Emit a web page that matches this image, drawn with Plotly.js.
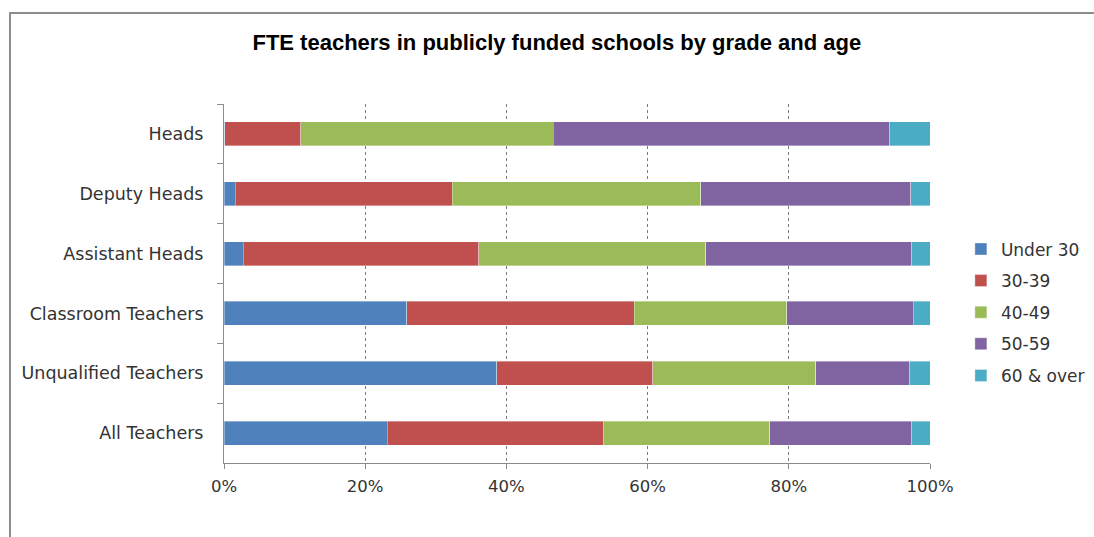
<!DOCTYPE html>
<html>
<head>
<meta charset="utf-8">
<script src="https://cdn.plot.ly/plotly-3.0.1.min.js"></script>
<style>
html,body{margin:0;padding:0;background:#fff;}
#wrap{position:relative;width:1094px;height:537px;overflow:hidden;}
#chart{position:absolute;left:0;top:0;width:1094px;height:537px;}
#frame{position:absolute;left:9px;top:12px;width:1100px;height:540px;border-left:2px solid #8c8c8c;border-top:2px solid #8c8c8c;pointer-events:none;}
</style>
</head>
<body>
<div id="wrap"><div id="chart"></div><div id="frame"></div></div>
<script>
const categories = ["Heads","Deputy Heads","Assistant Heads","Classroom Teachers","Unqualified Teachers","All Teachers"];
const seriesNames = ["Under 30","30-39","40-49","50-59","60 & over"];
const under30 = [0.1, 1.6, 2.7, 25.9, 38.6, 23.1];
const age30_39 = [10.8, 30.7, 33.4, 32.2, 22.1, 30.7];
const age40_49 = [35.7, 35.2, 32.1, 21.6, 23.1, 23.5];
const age50_59 = [47.7, 29.8, 29.2, 17.9, 13.3, 20.1];
const age60plus = [5.7, 2.7, 2.6, 2.4, 2.9, 2.6];
const colors = ["#4F81BD","#C0504D","#9BBB59","#8064A2","#4BACC6"];
const tickVals = [0,20,40,60,80,100];
const tickText = ["0%","20%","40%","60%","80%","100%"];

const allSeries = [under30, age30_39, age40_49, age50_59, age60plus];
const traces = allSeries.map((vals, i) => ({
  type: "bar",
  orientation: "h",
  name: seriesNames[i],
  legendgroup: "g" + i,
  y: categories,
  x: vals,
  marker: {color: colors[i], line: {color: "rgba(255,255,255,0.6)", width: 0.6}},
  hoverinfo: "x+y+name"
}));

const layout = {
  width: 1094, height: 537,
  margin: {l: 224, r: 0, t: 104, b: 74, pad: 0},
  paper_bgcolor: "#fff", plot_bgcolor: "#fff",
  barmode: "stack",
  bargap: 0.6,
  title: {
    text: "<b>FTE teachers in publicly funded schools by grade and age</b>",
    x: 0.509, xanchor: "center", y: 0.922, yanchor: "middle",
    font: {family: "Liberation Sans Narrow, Arial Narrow, sans-serif", size: 22, color: "#000"}
  },
  font: {family: "DejaVu Sans, Verdana, sans-serif", size: 16, color: "#333"},
  xaxis: {
    domain: [0, 0.8115],
    range: [0, 100],
    tickvals: tickVals, ticktext: tickText,
    showgrid: true, gridcolor: "#7a7a7a", griddash: "3px,3px", gridwidth: 1,
    showline: true, linecolor: "#8a8a8a", linewidth: 1,
    ticks: "outside", ticklen: 5, tickcolor: "#8a8a8a",
    ticklabelstandoff: 3,
    tickfont: {family: "DejaVu Sans, Verdana, sans-serif", size: 16.5, color: "#333"},
    zeroline: false, fixedrange: true
  },
  yaxis: {
    type: "category",
    autorange: "reversed",
    showline: true, linecolor: "#8a8a8a", linewidth: 1,
    ticks: "outside", ticklen: 6, tickcolor: "#8a8a8a", tickson: "boundaries",
    showgrid: false,
    ticklabelstandoff: 16,
    tickfont: {family: "DejaVu Sans, Verdana, sans-serif", size: 17.5, color: "#333"},
    fixedrange: true
  },
  legend: {
    x: 0.847, xanchor: "left", y: 0.645, yanchor: "top",
    traceorder: "grouped",
    font: {family: "DejaVu Sans, Verdana, sans-serif", size: 17, color: "#333"},
    tracegroupgap: 6.5,
    bgcolor: "rgba(0,0,0,0)"
  },
  showlegend: true
};

Plotly.newPlot("chart", traces, layout, {displayModeBar: false, staticPlot: true});
</script>
</body>
</html>
